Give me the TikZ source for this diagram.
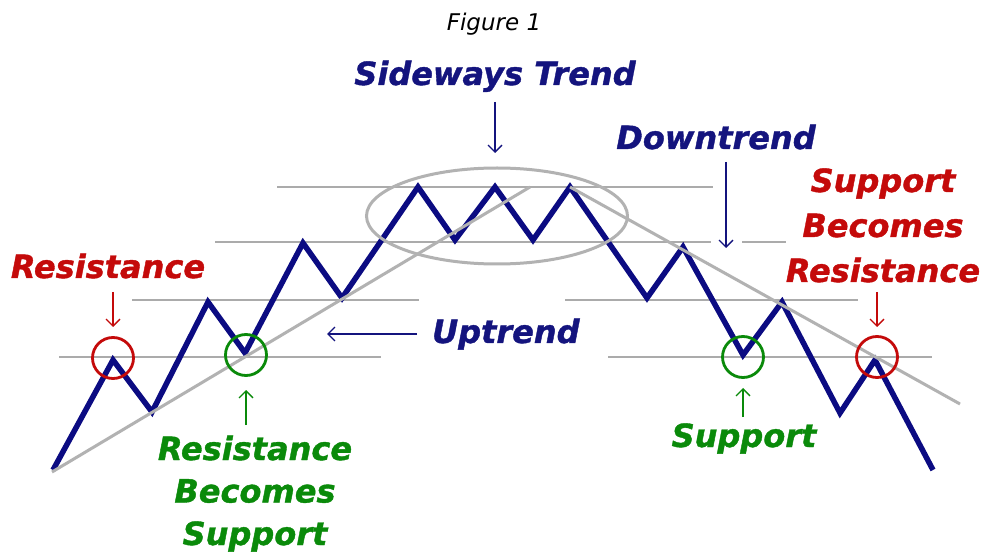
\documentclass[tikz,border=0pt]{standalone}
\usepackage{fontspec}
\setmainfont{DejaVu Sans}[BoldItalicFeatures={FakeBold=1.2}]
\usetikzlibrary{arrows.meta,shapes.geometric}
\definecolor{navy}{HTML}{0B0B82}
\definecolor{navytext}{HTML}{14147E}
\definecolor{redc}{HTML}{C40A0A}
\definecolor{greenc}{HTML}{0A8A0A}
\definecolor{hgray}{HTML}{ABABAB}
\definecolor{tgray}{HTML}{B2B2B2}
\tikzset{
  lbl/.style={inner sep=0pt, font=\bfseries\itshape\fontsize{32}{45}\selectfont, align=center},
  hline/.style={draw=hgray, line width=1.5pt},
  trend/.style={draw=tgray, line width=3pt},
  price/.style={draw=navy, line width=5.5pt, line join=miter},
  ring/.style={circle, draw, line width=2.8pt, minimum size=41pt, inner sep=0pt},
  pointer/.style={line width=1.3pt, -{Straight Barb[length=7pt,width=14pt]}}
}
\begin{document}
\begin{tikzpicture}[x=1pt,y=-1pt]
\useasboundingbox[fill=white] (0,0) rectangle (983,553);

% horizontal support/resistance lines
\coordinate (h1a) at (277,187); \coordinate (h1b) at (713,187);
\coordinate (h2a) at (215,242); \coordinate (h2b) at (711,242);
\coordinate (h2c) at (742,242); \coordinate (h2d) at (786,242);
\coordinate (h3a) at (132,300); \coordinate (h3b) at (419,300);
\coordinate (h3c) at (565,300); \coordinate (h3d) at (858,300);
\coordinate (h4a) at (59,357);  \coordinate (h4b) at (381,357);
\coordinate (h4c) at (608,357); \coordinate (h4d) at (932,357);
\draw[hline] (h1a) -- (h1b);
\draw[hline] (h2a) -- (h2b);
\draw[hline] (h2c) -- (h2d);
\draw[hline] (h3a) -- (h3b);
\draw[hline] (h3c) -- (h3d);
\draw[hline] (h4a) -- (h4b);
\draw[hline] (h4c) -- (h4d);

% price zigzag
\coordinate (p0) at (53,470);
\coordinate (p1) at (113,360);
\coordinate (p2) at (152,412);
\coordinate (p3) at (208,302);
\coordinate (p4) at (245,353);
\coordinate (p5) at (303,243);
\coordinate (p6) at (342,298);
\coordinate (p7) at (418,187);
\coordinate (p8) at (455,240);
\coordinate (p9) at (495,187);
\coordinate (p10) at (533,240);
\coordinate (p11) at (570,187);
\coordinate (p12) at (647,298);
\coordinate (p13) at (683,247);
\coordinate (p14) at (743,355);
\coordinate (p15) at (782,302);
\coordinate (p16) at (840,413);
\coordinate (p17) at (875,360);
\coordinate (p18) at (933,470);
\draw[price] (p0) -- (p1) -- (p2) -- (p3) -- (p4) -- (p5) -- (p6) -- (p7) -- (p8)
  -- (p9) -- (p10) -- (p11) -- (p12) -- (p13) -- (p14) -- (p15) -- (p16) -- (p17) -- (p18);

% trend lines
\coordinate (u0) at (52,472); \coordinate (u1) at (530,187);
\coordinate (d0) at (570,187); \coordinate (d1) at (960,404);
\draw[trend] (u0) -- (u1);
\draw[trend] (d0) -- (d1);

% sideways ellipse
\node[draw=tgray, line width=3pt, ellipse, minimum width=261pt, minimum height=96pt, inner sep=0pt] (side) at (497,216) {};

% circles
\node[ring, draw=redc] (cR1) at (113,358) {};
\node[ring, draw=greenc] (cG1) at (246,355) {};
\node[ring, draw=greenc] (cG2) at (743,357) {};
\node[ring, draw=redc] (cR2) at (877,357) {};

% labels
\node[inner sep=0pt, anchor=base, font=\itshape\fontsize{23}{28}\selectfont] (fig) at (494,31) {Figure 1};
\node[lbl, text=navytext, anchor=base] (tSide) at (495,85) {Sideways Trend};
\node[lbl, text=navytext, anchor=base] (tDown) at (716,149) {Downtrend};
\node[lbl, text=navytext, anchor=base west] (tUp) at (432,343) {Uptrend};
\node[lbl, text=redc, anchor=base] (tRes) at (108,278) {Resistance};
\node[lbl, text=redc, anchor=base] (tSBR) at (883,282) {Support\\Becomes\\Resistance};
\node[lbl, text=greenc, anchor=base, font=\bfseries\itshape\fontsize{32}{42.5}\selectfont] (tRBS) at (255,545) {Resistance\\Becomes\\Support};
\node[lbl, text=greenc, anchor=base] (tSup) at (744,447) {Support};

% pointers
\coordinate (aS0) at (495,102); \coordinate (aS1) at (495,153);
\coordinate (aD0) at (726,162); \coordinate (aD1) at (726,248);
\coordinate (aU0) at (417,334); \coordinate (aU1) at (327,334);
\coordinate (aR0) at (113,292); \coordinate (aR1) at (113,327);
\coordinate (aRB0) at (246,425); \coordinate (aRB1) at (246,390);
\coordinate (aSp0) at (743,417); \coordinate (aSp1) at (743,388);
\coordinate (aSB0) at (877,292); \coordinate (aSB1) at (877,327);
\draw[pointer, navytext] (aS0) -- (aS1);
\draw[pointer, navytext] (aD0) -- (aD1);
\draw[pointer, navytext] (aU0) -- (aU1);
\draw[pointer, redc] (aR0) -- (aR1);
\draw[pointer, greenc] (aRB0) -- (aRB1);
\draw[pointer, greenc] (aSp0) -- (aSp1);
\draw[pointer, redc] (aSB0) -- (aSB1);
\end{tikzpicture}
\end{document}
